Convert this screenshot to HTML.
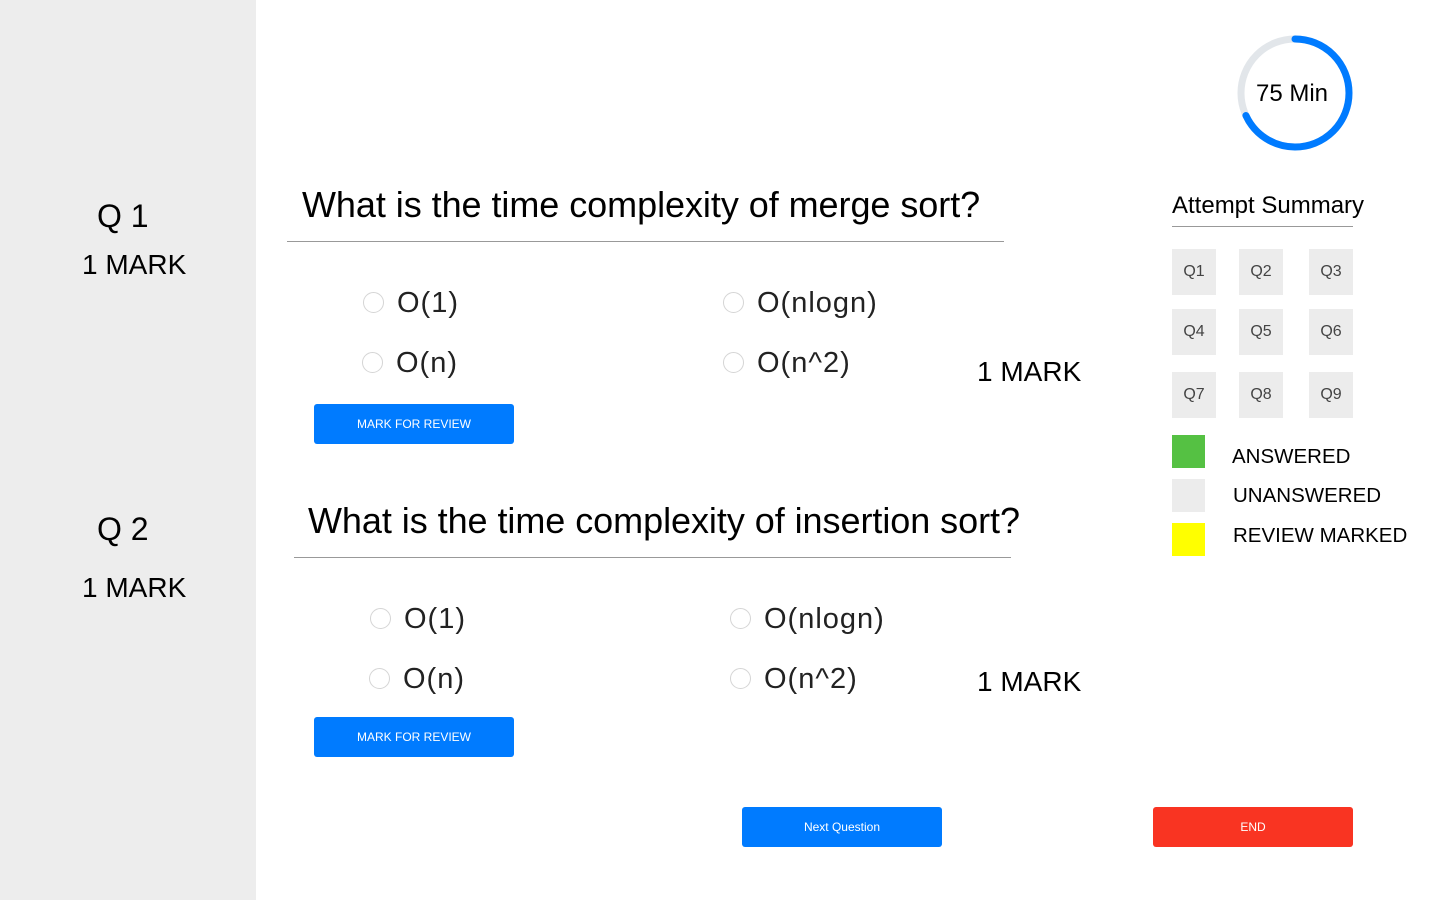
<!DOCTYPE html>
<html><head><meta charset="utf-8"><style>
body{margin:0;width:1440px;height:900px;position:relative;background:#fff;font-family:"Liberation Sans",sans-serif;overflow:hidden;color:#000}
.a{position:absolute;white-space:nowrap}
.side{left:0;top:0;width:256px;height:900px;background:#ededed}
.q{font-size:36px;line-height:36px;letter-spacing:-0.05px}
.hr{height:1px;background:#999}
.opt{font-size:29px;line-height:30px;color:#222;letter-spacing:1px}
.rad{width:19px;height:19px;border:1px solid #d5d5d5;border-radius:50%;background:#fff}
.btn{background:#007bff;color:#fff;font-size:12px;text-align:center;border-radius:3px;width:200px;height:40px;line-height:40px}
.mk{font-size:28px;line-height:28px}
.box{width:44px;height:46px;background:#ececec;color:#444;font-size:16px;text-align:center;line-height:46px}
.sq{width:33px;height:33px}
.lg{font-size:20.5px;line-height:20px}
</style></head><body>
<div class="a side"></div>
<div class="a" style="left:97px;top:200px;font-size:32px;line-height:32px">Q 1</div>
<div class="a mk" style="left:82px;top:251px">1 MARK</div>
<div class="a" style="left:97px;top:513px;font-size:32px;line-height:32px">Q 2</div>
<div class="a mk" style="left:82px;top:574px">1 MARK</div>

<svg class="a" style="left:1230px;top:28px" width="130" height="130">
<circle cx="65" cy="65" r="54" fill="none" stroke="#e2e6ea" stroke-width="7"/>
<circle cx="65" cy="65" r="54" fill="none" stroke="#007bff" stroke-width="7" stroke-linecap="round" stroke-dasharray="231 400" transform="rotate(-90 65 65)"/>
<text x="62" y="73" text-anchor="middle" font-size="24" font-family="Liberation Sans">75 Min</text>
</svg>

<div class="a q" style="left:302px;top:187px">What is the time complexity of merge sort?</div>
<div class="a hr" style="left:287px;top:241px;width:717px"></div>
<div class="a rad" style="left:363px;top:292px"></div>
<div class="a opt" style="left:397px;top:288px">O(1)</div>
<div class="a rad" style="left:723px;top:292px"></div>
<div class="a opt" style="left:757px;top:288px">O(nlogn)</div>
<div class="a rad" style="left:362px;top:352px"></div>
<div class="a opt" style="left:396px;top:348px">O(n)</div>
<div class="a rad" style="left:723px;top:352px"></div>
<div class="a opt" style="left:757px;top:348px">O(n^2)</div>
<div class="a mk" style="left:977px;top:358px">1 MARK</div>
<div class="a btn" style="left:314px;top:404px">MARK FOR REVIEW</div>

<div class="a q" style="left:308px;top:503px">What is the time complexity of insertion sort?</div>
<div class="a hr" style="left:294px;top:557px;width:717px"></div>
<div class="a rad" style="left:370px;top:608px"></div>
<div class="a opt" style="left:404px;top:604px">O(1)</div>
<div class="a rad" style="left:730px;top:608px"></div>
<div class="a opt" style="left:764px;top:604px">O(nlogn)</div>
<div class="a rad" style="left:369px;top:668px"></div>
<div class="a opt" style="left:403px;top:664px">O(n)</div>
<div class="a rad" style="left:730px;top:668px"></div>
<div class="a opt" style="left:764px;top:664px">O(n^2)</div>
<div class="a mk" style="left:977px;top:668px">1 MARK</div>
<div class="a btn" style="left:314px;top:717px">MARK FOR REVIEW</div>

<div class="a" style="left:1172px;top:194px;font-size:24px;line-height:24px">Attempt Summary</div>
<div class="a hr" style="left:1172px;top:226px;width:181px"></div>
<div class="a box" style="left:1172px;top:249px">Q1</div>
<div class="a box" style="left:1239px;top:249px">Q2</div>
<div class="a box" style="left:1309px;top:249px">Q3</div>
<div class="a box" style="left:1172px;top:309px">Q4</div>
<div class="a box" style="left:1239px;top:309px">Q5</div>
<div class="a box" style="left:1309px;top:309px">Q6</div>
<div class="a box" style="left:1172px;top:372px">Q7</div>
<div class="a box" style="left:1239px;top:372px">Q8</div>
<div class="a box" style="left:1309px;top:372px">Q9</div>
<div class="a sq" style="left:1172px;top:435px;background:#55c143"></div>
<div class="a lg" style="left:1232px;top:447px">ANSWERED</div>
<div class="a sq" style="left:1172px;top:479px;background:#ececec"></div>
<div class="a lg" style="left:1233px;top:486px">UNANSWERED</div>
<div class="a sq" style="left:1172px;top:523px;background:#ffff00"></div>
<div class="a lg" style="left:1233px;top:526px">REVIEW MARKED</div>

<div class="a btn" style="left:742px;top:807px">Next Question</div>
<div class="a btn" style="left:1153px;top:807px;background:#f93422">END</div>
</body></html>
